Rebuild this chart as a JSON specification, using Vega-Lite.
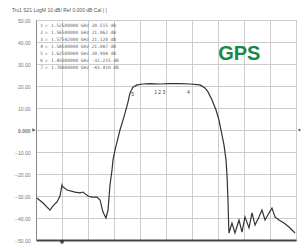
{
  "$schema": "https://vega.github.io/schema/vega-lite/v6.json",
  "width": 260,
  "height": 220,
  "autosize": {"type": "none"},
  "padding": {"left": 36, "top": 20, "right": 8, "bottom": 9},
  "background": "white",
  "config": {
    "view": {"stroke": "#999", "strokeWidth": 1},
    "font": "Liberation Sans"
  },
  "title": {
    "text": "Trc1  S21  LogM  10 dB/  Ref 0.000 dB  Cal   |   |",
    "fontSize": 5,
    "fontWeight": "normal",
    "color": "#555",
    "anchor": "start",
    "frame": "group",
    "dx": -24,
    "offset": 5
  },
  "datasets": {
    "trace": [
      {"f": 1326.9, "db": -30.9}, {"f": 1338.5, "db": -33.2}, {"f": 1351.9, "db": -36.4},
      {"f": 1357.7, "db": -34.5}, {"f": 1365.4, "db": -32.7}, {"f": 1371.2, "db": -30.0},
      {"f": 1375.0, "db": -25.0}, {"f": 1376.9, "db": -25.9}, {"f": 1384.6, "db": -27.3},
      {"f": 1400.0, "db": -28.2}, {"f": 1409.6, "db": -28.6}, {"f": 1415.4, "db": -28.2},
      {"f": 1425.0, "db": -30.0}, {"f": 1432.7, "db": -30.5}, {"f": 1442.3, "db": -30.5},
      {"f": 1448.1, "db": -31.8}, {"f": 1453.8, "db": -37.3}, {"f": 1459.6, "db": -40.0},
      {"f": 1463.5, "db": -36.4}, {"f": 1467.3, "db": -25.0}, {"f": 1471.2, "db": -18.2},
      {"f": 1473.1, "db": -13.6}, {"f": 1476.9, "db": -9.1}, {"f": 1482.7, "db": -3.6},
      {"f": 1486.5, "db": 0.0}, {"f": 1492.3, "db": 4.5}, {"f": 1496.2, "db": 7.7},
      {"f": 1501.9, "db": 12.7}, {"f": 1505.8, "db": 16.8}, {"f": 1511.5, "db": 19.5},
      {"f": 1519.2, "db": 20.5}, {"f": 1530.8, "db": 20.9}, {"f": 1544.2, "db": 21.1},
      {"f": 1563.5, "db": 20.9}, {"f": 1582.7, "db": 21.1}, {"f": 1601.9, "db": 21.1},
      {"f": 1621.2, "db": 20.9}, {"f": 1640.4, "db": 20.5}, {"f": 1650.0, "db": 19.1},
      {"f": 1655.8, "db": 17.3}, {"f": 1663.5, "db": 13.6}, {"f": 1671.2, "db": 9.1},
      {"f": 1676.9, "db": 4.5}, {"f": 1682.7, "db": -2.3}, {"f": 1686.5, "db": -6.8},
      {"f": 1690.4, "db": -13.6}, {"f": 1692.3, "db": -20.5}, {"f": 1694.2, "db": -31.8},
      {"f": 1695.5, "db": -43.2}, {"f": 1696.2, "db": -46.8}, {"f": 1701.9, "db": -42.3},
      {"f": 1707.7, "db": -46.8}, {"f": 1715.4, "db": -40.9}, {"f": 1721.2, "db": -46.4},
      {"f": 1726.9, "db": -39.5}, {"f": 1734.6, "db": -44.5}, {"f": 1740.4, "db": -37.7},
      {"f": 1746.2, "db": -43.2}, {"f": 1753.8, "db": -39.5}, {"f": 1759.6, "db": -36.4},
      {"f": 1765.4, "db": -40.9}, {"f": 1773.1, "db": -37.7}, {"f": 1778.8, "db": -35.5},
      {"f": 1784.6, "db": -39.5}, {"f": 1792.3, "db": -40.9}, {"f": 1801.9, "db": -42.3},
      {"f": 1811.5, "db": -44.1}, {"f": 1823.1, "db": -46.8}
    ],
    "table": [
      {"f": 1333, "db": 47.2, "t": "1  ▷  1.52500000 GHz    20.515 dB"},
      {"f": 1333, "db": 44.0, "t": "2  ▷  1.56500000 GHz    21.062 dB"},
      {"f": 1333, "db": 40.8, "t": "3  ▷  1.57542000 GHz    21.120 dB"},
      {"f": 1333, "db": 37.6, "t": "4  ▷  1.58500000 GHz    21.087 dB"},
      {"f": 1333, "db": 34.4, "t": "5  ▷  1.62500000 GHz    20.904 dB"},
      {"f": 1333, "db": 31.2, "t": "6  ▷  1.45000000 GHz   -32.215 dB"},
      {"f": 1333, "db": 28.0, "t": "7  ▷  1.70000000 GHz   -43.410 dB"}
    ],
    "mk": [
      {"f": 1511, "db": 16.5, "t": "5"},
      {"f": 1563, "db": 17.5, "t": "1 2 3"},
      {"f": 1618, "db": 17.5, "t": "4"}
    ],
    "gps": [{"f": 1716, "db": 31.8, "t": "GPS"}],
    "refL": [{"f": 1325, "db": 0}],
    "refR": [{"f": 1825, "db": 0}],
    "stim": [{"f": 1375, "db": -50}]
  },
  "encoding": {
    "x": {
      "field": "f", "type": "quantitative",
      "scale": {"domain": [1325, 1825], "nice": false, "zero": false},
      "axis": {"values": [1325, 1375, 1425, 1475, 1525, 1575, 1625, 1675, 1725, 1775, 1825],
               "labels": false, "ticks": false, "domain": true, "domainColor": "#444", "domainWidth": 2,
               "grid": true, "gridColor": "#cccccc", "gridOpacity": 1, "gridWidth": 1, "title": null}
    },
    "y": {
      "field": "db", "type": "quantitative",
      "scale": {"domain": [-50, 50], "nice": false, "zero": false},
      "axis": {"values": [50, 40, 30, 20, 10, 0, -10, -20, -30, -40, -50],
               "labelExpr": "datum.value == 0 ? '0.000' : format(datum.value, '.2f')",
               "labelFontSize": 5, "labelColor": "#777", "labelPadding": 6, "labelOverlap": false,
               "labelFontWeight": {"condition": {"test": "datum.value == 0", "value": "bold"}, "value": "normal"},
               "ticks": false, "domain": true, "domainColor": "#888",
               "grid": true, "gridColor": "#cccccc", "gridOpacity": 1, "gridWidth": 1, "title": null}
    }
  },
  "layer": [
    {
      "data": {"name": "trace"},
      "mark": {"type": "line", "color": "#333", "strokeWidth": 1.2, "clip": true}
    },
    {
      "data": {"name": "table"},
      "mark": {"type": "text", "align": "left", "baseline": "middle", "fontSize": 4.5, "font": "DejaVu Sans Mono", "color": "#666"},
      "encoding": {"text": {"field": "t"}}
    },
    {
      "data": {"name": "mk"},
      "mark": {"type": "text", "align": "center", "baseline": "middle", "fontSize": 5, "color": "#444"},
      "encoding": {"text": {"field": "t"}}
    },
    {
      "data": {"name": "gps"},
      "mark": {"type": "text", "align": "center", "baseline": "alphabetic", "fontSize": 20, "fontWeight": "bold", "color": "#17874a", "font": "Liberation Sans"},
      "encoding": {"text": {"field": "t"}}
    },
    {
      "data": {"name": "refL"},
      "mark": {"type": "point", "shape": "triangle-right", "filled": true, "color": "#111", "size": 14, "clip": false, "xOffset": -2}
    },
    {
      "data": {"name": "refR"},
      "mark": {"type": "point", "shape": "triangle-left", "filled": true, "color": "#111", "size": 10, "clip": false, "xOffset": 3}
    },
    {
      "data": {"name": "stim"},
      "mark": {"type": "point", "shape": "circle", "filled": true, "color": "#111", "size": 14, "clip": false, "yOffset": 2}
    }
  ]
}
